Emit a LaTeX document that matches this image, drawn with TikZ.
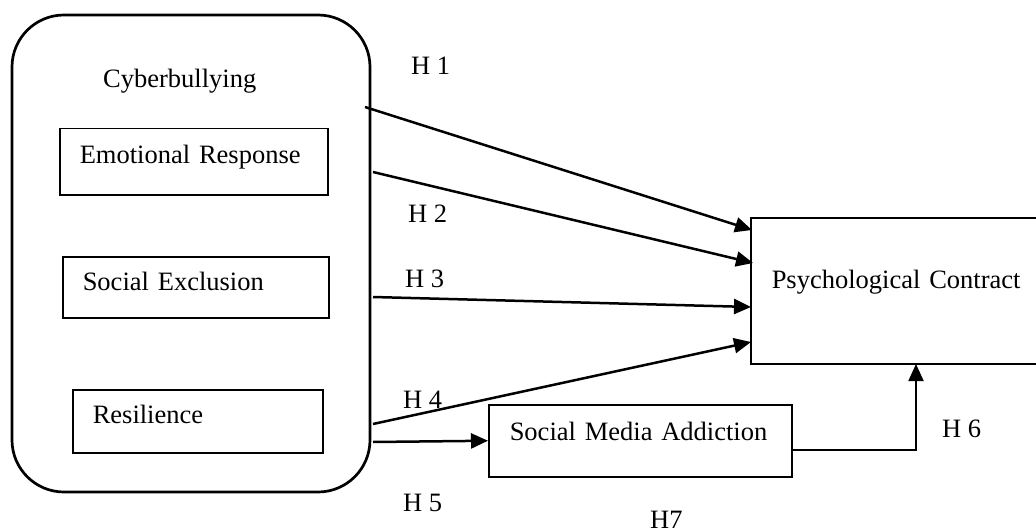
\documentclass[tikz,border=0pt]{standalone}
\usepackage{fontspec}
\setmainfont{Liberation Serif}
\usetikzlibrary{arrows.meta}
\begin{document}
\begin{tikzpicture}[x=1pt,y=-1pt,font=\fontsize{26.5}{32}\selectfont,
  box/.style={draw,line width=1.5pt,anchor=north west,inner xsep=20pt,inner ysep=0pt,align=left},
  arr/.style={line width=2.5pt,-{Triangle[length=17pt,width=15pt]}},
  hyp/.style={anchor=base west,inner sep=0pt}]
\useasboundingbox (0,0) rectangle (1036,532);
% independent variables
\node[draw,line width=2.7pt,rounded corners=52pt,minimum width=358pt,minimum height=477pt] (cyber) at (191,253.5) {};
\node[hyp] (cybertitle) at (103,88) {Cyberbullying};
\node[box,text width=228pt,text height=35pt,text depth=31pt] (emo) at (59,128) {Emotional Response};
\node[box,text width=226pt,text height=34pt,text depth=27pt] (excl) at (62,256) {Social Exclusion};
\node[box,text width=210pt,text height=34pt,text depth=29pt] (resil) at (72,389) {Resilience};
% mediator and outcome
\node[box,inner xsep=21pt,text width=261pt,text height=36pt,text depth=36pt] (sma) at (488,404) {Social Media Addiction};
\node[box,inner xsep=21pt,text width=258pt,text height=71pt,text depth=75pt] (psych) at (750,217) {Psychological Contract};
% arrow ends
\coordinate (s1) at (365,107); \coordinate (e1) at (752,230);
\coordinate (s2) at (373,172); \coordinate (e2) at (753,263);
\coordinate (s3) at (373,297); \coordinate (e3) at (751,307);
\coordinate (s4) at (373,424); \coordinate (e4) at (751,342);
\coordinate (s5) at (373,442);
\coordinate (s6) at (791,450); \coordinate (e6) at (916,364);
\draw[arr] (s1)--(e1);
\draw[arr] (s2)--(e2);
\draw[arr] (s3)--(e3);
\draw[arr] (s4)--(e4);
\draw[arr] (s5)--(sma.west);
\draw[arr,line width=1.9pt] (s6) -| (e6);
% hypotheses
\node[hyp] (h1) at (411,75) {H 1};
\node[hyp] (h2) at (408,222) {H 2};
\node[hyp] (h3) at (405,287) {H 3};
\node[hyp] (h4) at (403,408) {H 4};
\node[hyp] (h5) at (403,511) {H 5};
\node[hyp] (h6) at (942,437) {H 6};
\node[hyp] (h7) at (650,528) {H7};
\end{tikzpicture}
\end{document}
